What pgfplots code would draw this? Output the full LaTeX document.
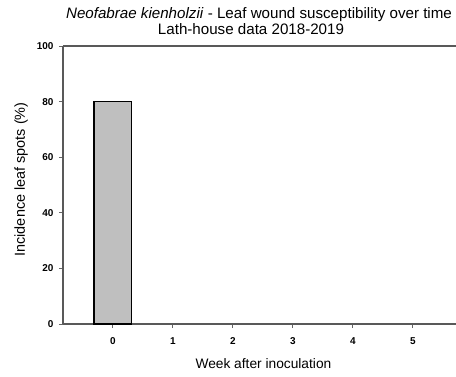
\documentclass[border=0pt]{standalone}
\usepackage{pgfplots}
\pgfplotsset{compat=1.18}
\usepackage{fontspec}
\setmainfont{Liberation Sans}
\begin{document}
\begin{tikzpicture}[x=1bp,y=1bp]
\begin{axis}[
  scale only axis,
  width=393bp, height=278bp,
  xmin=-0.83, xmax=5.72,
  ymin=0, ymax=100,
  axis x line*=bottom,
  axis y line*=left,
  axis line style={draw=black!65, line width=1.3bp, -},
  xtick={0,1,2,3,4,5},
  ytick={0,20,40,60,80,100},
  tick align=outside,
  major tick length=4bp,
  tick style={draw=black!60, line width=0.7bp},
  /pgf/number format/assume math mode=true,
  ticklabel style={font=\fontsize{10}{12}\selectfont\bfseries},
  xticklabel style={yshift=-6bp},
  yticklabel style={xshift=-2bp},
  xlabel={Week after inoculation},
  ylabel={Incidence leaf spots (\%)},
  xlabel style={font=\fontsize{13.8}{16}\selectfont, at={(axis description cs:0.51,-0.1594)}, anchor=base},
  ylabel style={font=\fontsize{14.5}{16}\selectfont, at={(axis description cs:-0.0967,0.52)}, anchor=base},
  clip=false,
]
\addplot[ybar, bar width=0.62, fill=black!25, draw=black, line width=1.5bp]
  coordinates {(0,80)};
\draw[draw=black!65, line width=1.3bp] (axis cs:-0.83,100) -- (axis cs:5.72,100);
\end{axis}
\node[font=\fontsize{15.2}{17}\selectfont, anchor=base] at (196bp,305.7bp)
  {\textit{Neofabrae kienholzii} - Leaf wound susceptibility over time};
\node[font=\fontsize{15.2}{17}\selectfont, anchor=base] at (188bp,289bp)
  {Lath-house data 2018-2019};
\pgfresetboundingbox
\path[use as bounding box] (-63bp,-53bp) rectangle (393bp,324bp);
\end{tikzpicture}
\end{document}
